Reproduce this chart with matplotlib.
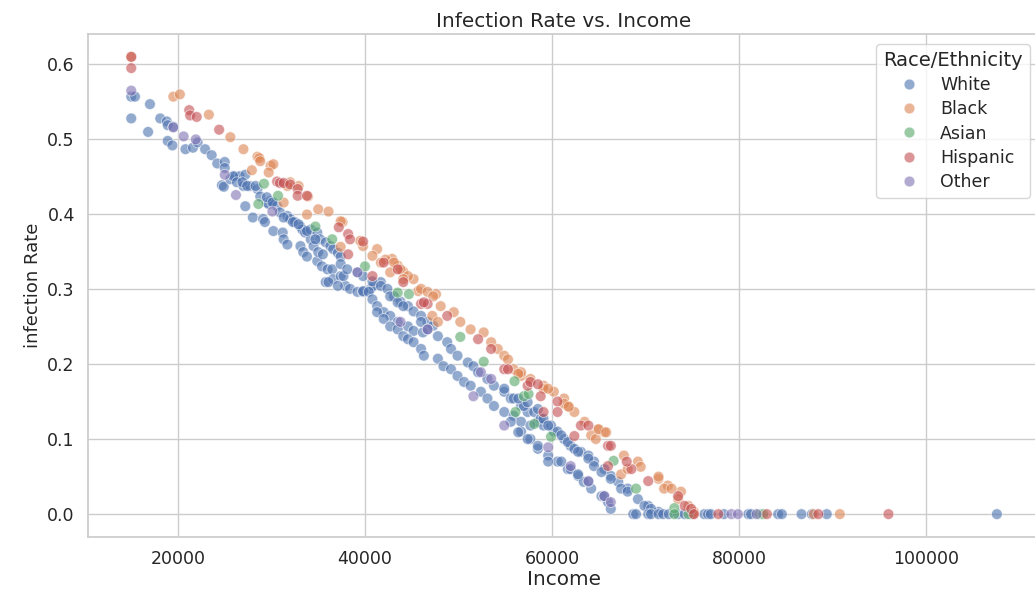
import matplotlib
matplotlib.use("Agg")
import matplotlib.pyplot as plt
import pandas as pd
import seaborn as sns

# values
white_income = [15000, 15400, 15000, 17000, 16800, 18100, 18800, 18900, 19500, 18900, 19400, 20800,
                21600, 22100, 22900, 23600, 24200, 25000, 25000, 24700, 24900, 25600, 26100, 26600,
                27200, 25900, 26300, 27000, 27700, 28500, 26900, 27400, 28300, 28800, 29500, 29900,
                27200, 28000, 29100, 29300, 29700, 30200, 30600, 30200, 31200, 31300, 31700, 30900,
                31700, 32000, 32500, 33100, 33300, 33100, 33400, 33800, 33600, 34200, 34900, 35400,
                36000, 36500, 35800, 36600, 37400, 37900, 38400, 39200, 39800, 40600, 41700, 40900,
                36100, 37100, 37700, 39800, 40400, 40800, 41300, 42000, 42700, 43500, 44600, 45200,
                46200, 34200, 34900, 35200, 35800, 36300, 36600, 37100, 37400, 34500, 35000, 35500,
                34700, 29500, 30100, 31300, 32300, 32900, 33800, 37400, 38100, 39200, 39800, 40800,
                41700, 42400, 43100, 43800, 44600, 45200, 46000, 46700, 47300, 42700, 43500, 44100,
                46000, 46700, 47800, 48800, 49200, 49900, 51000, 51600, 52100, 53100, 53800, 54900,
                55600, 56700, 57400, 58500, 59100, 60200, 41300, 42000, 42700, 43500, 44100, 44600,
                45200, 46000, 46300, 47800, 48400, 49200, 49900, 50600, 51300, 52400, 53100, 53800,
                54900, 55900, 56700, 57700, 54900, 55900, 57000, 58100, 58800, 59900, 60600, 61300,
                62000, 63100, 63900, 64500, 65600, 66300, 67100, 68100, 69200, 70300, 71400, 55600,
                56700, 57700, 58500, 59600, 60600, 61700, 62800, 63400, 64200, 65300, 66000, 66300,
                56400, 57400, 58500, 59100, 59600, 61000, 61700, 62400, 62800, 63900, 64500, 65300,
                66300, 67400, 56400, 57400, 58500, 59600, 61000, 62000, 62800, 63900, 65600, 68100,
                69900, 70600, 68700, 69000, 70300, 70600, 71400, 71900, 72500, 73500, 74200, 74900,
                76300, 76700, 77000, 78400, 81000, 81300, 84200, 84600, 86700, 87800, 89400, 107600]
white_rate = [0.556, 0.556, 0.527, 0.546, 0.509, 0.527, 0.523, 0.518, 0.516, 0.497, 0.491, 0.486,
              0.488, 0.495, 0.486, 0.478, 0.467, 0.469, 0.461, 0.438, 0.436, 0.446, 0.450, 0.450,
              0.452, 0.450, 0.442, 0.437, 0.437, 0.433, 0.442, 0.437, 0.437, 0.423, 0.415, 0.417,
              0.410, 0.395, 0.393, 0.389, 0.413, 0.415, 0.410, 0.377, 0.375, 0.366, 0.359, 0.402,
              0.397, 0.393, 0.389, 0.383, 0.379, 0.357, 0.349, 0.343, 0.375, 0.366, 0.337, 0.330,
              0.326, 0.326, 0.309, 0.313, 0.317, 0.304, 0.300, 0.296, 0.296, 0.300, 0.309, 0.304,
              0.309, 0.304, 0.317, 0.297, 0.296, 0.286, 0.277, 0.269, 0.264, 0.256, 0.250, 0.244,
              0.242, 0.379, 0.375, 0.366, 0.362, 0.357, 0.353, 0.348, 0.343, 0.357, 0.349, 0.346,
              0.366, 0.422, 0.415, 0.395, 0.389, 0.386, 0.377, 0.333, 0.326, 0.322, 0.317, 0.310,
              0.304, 0.300, 0.290, 0.283, 0.277, 0.270, 0.264, 0.256, 0.251, 0.290, 0.282, 0.277,
              0.256, 0.246, 0.237, 0.229, 0.220, 0.211, 0.202, 0.197, 0.189, 0.180, 0.171, 0.163,
              0.154, 0.144, 0.136, 0.123, 0.118, 0.110, 0.269, 0.260, 0.250, 0.246, 0.237, 0.233,
              0.229, 0.220, 0.211, 0.207, 0.197, 0.193, 0.184, 0.176, 0.171, 0.163, 0.154, 0.144,
              0.136, 0.131, 0.123, 0.118, 0.167, 0.154, 0.144, 0.136, 0.127, 0.118, 0.110, 0.100,
              0.091, 0.083, 0.078, 0.070, 0.060, 0.051, 0.043, 0.034, 0.020, 0.011, 0.003, 0.123,
              0.110, 0.100, 0.087, 0.078, 0.070, 0.060, 0.051, 0.043, 0.034, 0.024, 0.016, 0.007,
              0.154, 0.149, 0.140, 0.127, 0.118, 0.105, 0.096, 0.087, 0.083, 0.074, 0.064, 0.056,
              0.047, 0.034, 0.109, 0.100, 0.091, 0.070, 0.070, 0.060, 0.053, 0.043, 0.024, 0.030,
              0.011, 0.007, 0.0, 0.0, 0.0, 0.0, 0.0, 0.0, 0.0, 0.0, 0.0, 0.0,
              0.0, 0.0, 0.0, 0.0, 0.0, 0.0, 0.0, 0.0, 0.0, 0.0, 0.0, 0.0]

black_income = [15000, 19500, 20200, 23300, 25600, 27000, 28500, 28700, 28800, 29900, 30200, 29700,
                27900, 32000, 32900, 31300, 31700, 33900, 33800, 35000, 36100, 37600, 37400, 39800,
                41300, 40800, 42900, 43500, 44100, 45200, 45700, 47600, 37400, 39500, 42200, 43100,
                43800, 44600, 46000, 46700, 47300, 47200, 47800, 41700, 42700, 44100, 48100, 49500,
                50200, 51300, 52700, 53500, 54200, 54900, 55900, 56700, 57700, 59100, 60200, 61300,
                55300, 56700, 59100, 61700, 62400, 63500, 64900, 65600, 67700, 69200, 71400, 72400,
                73800, 74600, 75200, 56400, 59600, 61300, 61800, 64200, 64700, 65000, 65800, 69500,
                67400, 68100, 71400, 72000, 72800, 73500, 75100, 88000, 90800]
black_rate = [0.609, 0.556, 0.559, 0.532, 0.502, 0.486, 0.476, 0.474, 0.470, 0.464, 0.466, 0.455,
              0.458, 0.442, 0.437, 0.415, 0.437, 0.423, 0.399, 0.406, 0.403, 0.389, 0.356, 0.357,
              0.353, 0.344, 0.340, 0.331, 0.323, 0.313, 0.297, 0.293, 0.390, 0.364, 0.339, 0.335,
              0.326, 0.317, 0.300, 0.296, 0.290, 0.264, 0.256, 0.335, 0.322, 0.313, 0.277, 0.269,
              0.256, 0.246, 0.242, 0.229, 0.220, 0.211, 0.193, 0.184, 0.180, 0.171, 0.163, 0.154,
              0.206, 0.189, 0.167, 0.144, 0.136, 0.123, 0.113, 0.109, 0.078, 0.070, 0.047, 0.038,
              0.030, 0.011, 0.003, 0.187, 0.167, 0.147, 0.143, 0.105, 0.100, 0.113, 0.109, 0.063,
              0.053, 0.060, 0.050, 0.034, 0.034, 0.020, 0.0, 0.0, 0.0]

asian_income = [29200, 30700, 28600, 34700, 36500, 40000, 43500, 44700, 50200, 52700, 56000, 57000,
                56100, 58100, 57500, 59900, 66600, 69000, 73100, 73100, 74600, 82200, 82600]
asian_rate = [0.440, 0.424, 0.413, 0.383, 0.366, 0.330, 0.295, 0.293, 0.236, 0.203, 0.177, 0.157,
              0.136, 0.120, 0.160, 0.103, 0.071, 0.034, 0.008, 0.0, 0.0, 0.0, 0.0]

hispanic_income = [15000, 15000, 21200, 21300, 22000, 24400, 30600, 30900, 31300, 32000, 32800, 32800,
                   33800, 37200, 38200, 38400, 38200, 39800, 42000, 43500, 40800, 46000, 46700, 44100,
                   46300, 48800, 52100, 53500, 54900, 57400, 58800, 59100, 60600, 55300, 57700, 60600,
                   63100, 66000, 68500, 70300, 73500, 66000, 58500, 63900, 62400, 66300, 68000, 74200,
                   74900, 75200, 77800, 83000, 88500, 96000]
hispanic_rate = [0.594, 0.609, 0.538, 0.531, 0.529, 0.512, 0.443, 0.441, 0.441, 0.439, 0.433, 0.424,
                 0.424, 0.382, 0.373, 0.366, 0.346, 0.363, 0.335, 0.326, 0.317, 0.280, 0.280, 0.309,
                 0.282, 0.264, 0.233, 0.220, 0.193, 0.171, 0.157, 0.136, 0.150, 0.193, 0.176, 0.136,
                 0.118, 0.091, 0.060, 0.044, 0.024, 0.064, 0.173, 0.118, 0.104, 0.091, 0.070, 0.011,
                 0.007, 0.0, 0.0, 0.0, 0.0, 0.0]

other_income = [15000, 19500, 20600, 21900, 25000, 26200, 30100, 39200, 43800, 46700, 52400, 53500,
                54900, 51600, 59600, 62000, 63900, 65600, 66300, 79200, 79900, 81900]
other_rate = [0.564, 0.515, 0.503, 0.499, 0.452, 0.425, 0.403, 0.322, 0.256, 0.246, 0.189, 0.180,
              0.118, 0.157, 0.089, 0.064, 0.044, 0.024, 0.016, 0.0, 0.0, 0.0]

groups = ["White", "Black", "Asian", "Hispanic", "Other"]
incomes = [white_income, black_income, asian_income, hispanic_income, other_income]
rates = [white_rate, black_rate, asian_rate, hispanic_rate, other_rate]

rows = []
for g, inc, rt in zip(groups, incomes, rates):
    for a, b in zip(inc, rt):
        rows.append((a, b, g))
df = pd.DataFrame(rows, columns=["Income", "Infection Rate", "Race/Ethnicity"])

sns.set_theme(style="whitegrid", font_scale=1.2)
plt.rcParams['font.family'] = ['DejaVu Sans']

fig = plt.figure(figsize=(10.35, 5.96), dpi=100)
ax = fig.add_axes([0.085, 0.099, 0.92, 0.844])
sns.scatterplot(data=df, x="Income", y="Infection Rate", hue="Race/Ethnicity",
                hue_order=groups, alpha=0.6, s=60, ax=ax)
ax.set_title("Infection Rate vs. Income", pad=5)
ax.set_ylabel("infection Rate", fontsize=13)
ax.set_xlabel("Income", labelpad=1)
ax.tick_params(axis="both", labelsize=12.5)
ax.legend(title="Race/Ethnicity", loc="upper right", labelspacing=0.35,
          fontsize=12.5, title_fontsize=14, borderaxespad=0.6)

fig.savefig("out.png", dpi=100)
